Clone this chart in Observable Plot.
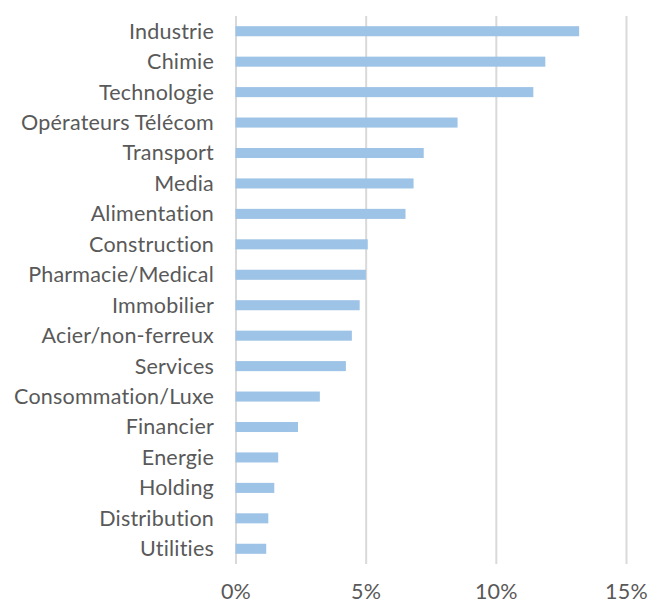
<!DOCTYPE html>
<html>
<head>
<meta charset="utf-8">
<script src="https://cdn.jsdelivr.net/npm/d3@7"></script>
<script src="https://cdn.jsdelivr.net/npm/@observablehq/plot@0.6"></script>
<style>
  html, body { margin: 0; padding: 0; background: #fff; }
  #chart svg { display: block; }
</style>
</head>
<body>
<div id="chart"></div>
<script>
const categories = ["Industrie","Chimie","Technologie","Opérateurs Télécom","Transport","Media","Alimentation","Construction","Pharmacie/Medical","Immobilier","Acier/non-ferreux","Services","Consommation/Luxe","Financier","Energie","Holding","Distribution","Utilities"];
const values = [13.2, 11.9, 11.44, 8.53, 7.23, 6.84, 6.53, 5.08, 5.01, 4.77, 4.47, 4.24, 3.24, 2.40, 1.64, 1.49, 1.26, 1.18];
const xTicks = [0, 5, 10, 15];

const data = categories.map((c, i) => ({category: c, value: values[i]}));

const chart = Plot.plot({
  width: 651,
  height: 605,
  marginLeft: 235.5,
  marginRight: 25,
  marginTop: 16,
  marginBottom: 41,
  style: {fontFamily: "Lato, sans-serif", fontSize: "21.5px", color: "#595959", background: "#fff", letterSpacing: "0.2px"},
  x: {domain: [0, 15], ticks: xTicks, tickFormat: d => d + "%", tickSize: 0, tickPadding: 19, label: null},
  y: {domain: categories, paddingInner: 0.67, paddingOuter: 0.335, round: false, tickSize: 0, tickPadding: 22, label: null},
  marks: [
    Plot.ruleX(xTicks, {stroke: "#d9d9d9", strokeWidth: 2}),
    Plot.barX(data, {y: "category", x: "value", fill: "#9dc3e6"})
  ]
});
document.getElementById("chart").appendChild(chart);
</script>
</body>
</html>
